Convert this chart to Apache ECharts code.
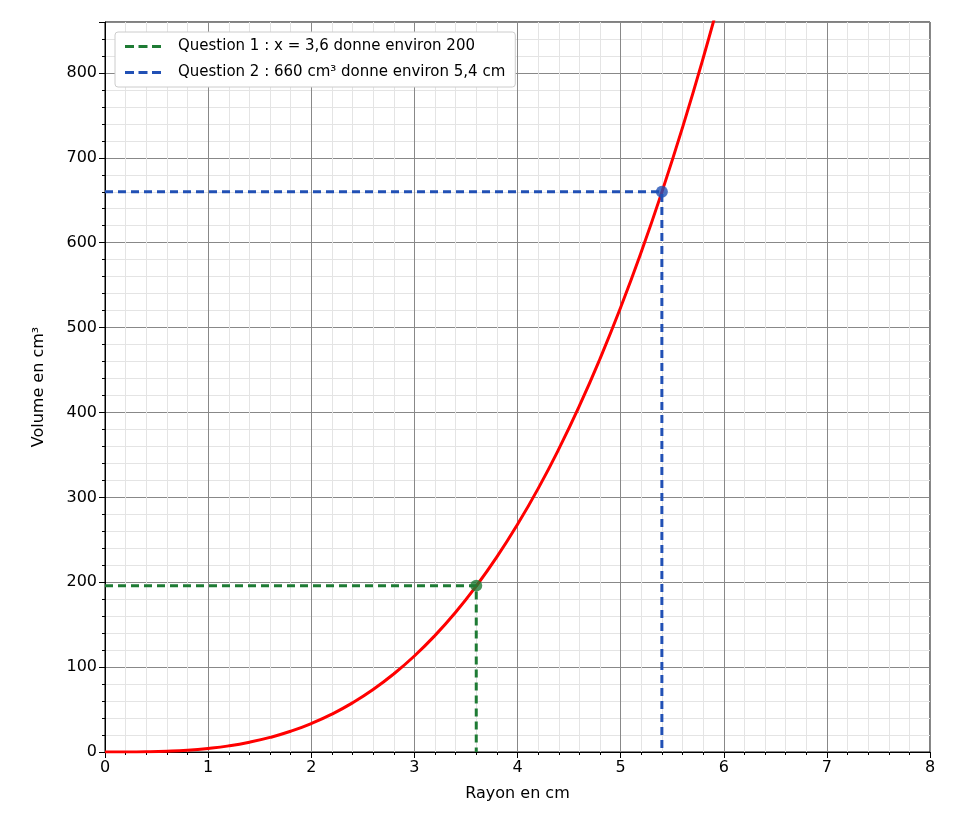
<!DOCTYPE html>
<html><head><meta charset="utf-8">
<script src="https://cdn.jsdelivr.net/npm/echarts@6/dist/echarts.min.js"></script>
<style>html,body{margin:0;padding:0;background:#fff}#c{width:960px;height:840px}</style>
</head><body><div id="c"></div>
<script>
const radius = [0,0.2,0.4,0.6,0.8,1.0,1.2,1.4,1.6,1.8,2.0,2.2,2.4,2.6,2.8,3.0,3.2,3.4,3.6,3.8,4.0,4.2,4.4,4.6,4.8,5.0,5.2,5.4,5.6,5.8,6.0];
const volume = [0,0.03,0.27,0.9,2.1,4.2,7.2,11.5,17.2,24.4,33.5,44.6,57.9,73.6,92.0,113.1,137.3,164.6,195.4,229.8,268.1,310.3,356.8,407.7,463.3,523.6,589.0,659.6,735.6,817.3,904.8];
const q1 = [[0,196],[3.6,196],[3.6,0]];
const q2 = [[0,660],[5.4,660],[5.4,0]];
const q1Point = [3.6,196];
const q2Point = [5.4,660];
const q1Name = 'Question 1 : x = 3,6 donne environ 200';
const q2Name = 'Question 2 : 660 cm³ donne environ 5,4 cm';

const dashIcon = 'path://M0,0h6v2h-6zM9,0h6v2h-6zM18,0h6v2h-6z';
const font = 'DejaVu Sans';
const chart = echarts.init(document.getElementById('c'));
chart.setOption({
  animation:false,
  textStyle:{fontFamily:font},
  grid:{left:105,right:30,top:22,bottom:88,show:true,borderColor:'#000',borderWidth:1,backgroundColor:'transparent'},
  legend:{left:115,top:32,orient:'vertical',itemWidth:36,itemHeight:3,itemGap:11,
    borderColor:'#ccc',borderWidth:1,borderRadius:3,padding:[7,10,7,10],backgroundColor:'#fff',
    textStyle:{fontSize:15,color:'#000',fontFamily:font,padding:[0,0,0,12]},
    data:[{name:q1Name,icon:dashIcon,itemStyle:{color:'#1e7b34'}},{name:q2Name,icon:dashIcon,itemStyle:{color:'#2150b5'}}]},
  xAxis:{type:'value',min:0,max:8,interval:1,name:'Rayon en cm',nameLocation:'middle',nameGap:34,
    nameTextStyle:{fontSize:16,color:'#000'},
    axisLine:{lineStyle:{color:'#000'}},axisTick:{show:true,length:6,lineStyle:{color:'#000'}},
    minorTick:{show:true,splitNumber:5,length:3,lineStyle:{color:'#000'}},
    axisLabel:{fontSize:16,color:'#000'},
    splitLine:{show:true,lineStyle:{color:'#888',width:1}},
    minorSplitLine:{show:true,lineStyle:{color:'#e4e4e4',width:1}}},
  yAxis:{type:'value',min:0,max:860,interval:100,name:'Volume en cm³',nameLocation:'middle',nameGap:58,
    nameTextStyle:{fontSize:16,color:'#000'},
    axisLine:{show:true,lineStyle:{color:'#000'}},axisTick:{show:true,length:6,lineStyle:{color:'#000'}},
    minorTick:{show:true,splitNumber:5,length:3,lineStyle:{color:'#000'}},
    axisLabel:{fontSize:16,color:'#000',showMaxLabel:false},
    splitLine:{show:true,lineStyle:{color:'#888',width:1}},
    minorSplitLine:{show:true,lineStyle:{color:'#e4e4e4',width:1}}},
  series:[
    {type:'line',name:'V',data:radius.map((r,i)=>[r,volume[i]]),smooth:true,showSymbol:false,clip:true,
      lineStyle:{color:'#ff0000',width:3},z:3},
    {type:'line',name:q1Name,data:q1,showSymbol:false,lineStyle:{color:'#1e7b34',width:3,type:[8,5]},itemStyle:{color:'#1e7b34'},z:4},
    {type:'line',name:q2Name,data:q2,showSymbol:false,lineStyle:{color:'#2150b5',width:3,type:[8,5]},itemStyle:{color:'#2150b5'},z:4},
    {type:'scatter',data:[q1Point],symbolSize:12,itemStyle:{color:'#1e7b34'},z:5},
    {type:'scatter',data:[q2Point],symbolSize:12,itemStyle:{color:'#2150b5'},z:5}
  ]
});
</script></body></html>
